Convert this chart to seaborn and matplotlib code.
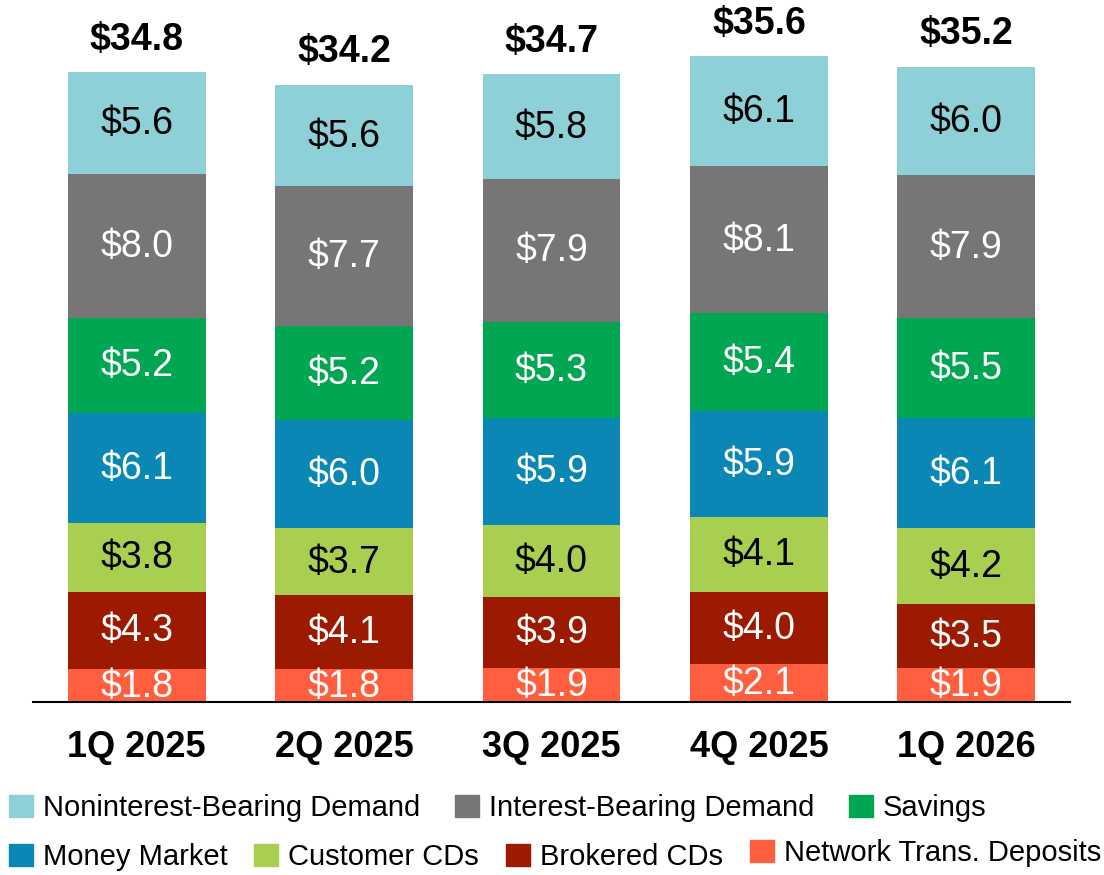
import numpy as np
import matplotlib
matplotlib.use('Agg')
import matplotlib.pyplot as plt
import seaborn as sns
from matplotlib.patches import Patch

# Datos (miles de millones de dólares)
trimestres = ['1Q 2025', '2Q 2025', '3Q 2025', '4Q 2025', '1Q 2026']
network = [1.8, 1.8, 1.9, 2.1, 1.9]
brokered = [4.3, 4.1, 3.9, 4.0, 3.5]
customer_cds = [3.8, 3.7, 4.0, 4.1, 4.2]
money_market = [6.1, 6.0, 5.9, 5.9, 6.1]
savings = [5.2, 5.2, 5.3, 5.4, 5.5]
interest_dem = [8.0, 7.7, 7.9, 8.1, 7.9]
nonint_dem = [5.6, 5.6, 5.8, 6.1, 6.0]
totales = [34.8, 34.2, 34.7, 35.6, 35.2]

series = [
    ('Network Trans. Deposits', network, '#FF5F3F', 'white'),
    ('Brokered CDs', brokered, '#9C1A00', 'white'),
    ('Customer CDs', customer_cds, '#A9CF50', 'black'),
    ('Money Market', money_market, '#0A87B4', 'white'),
    ('Savings', savings, '#00A651', 'white'),
    ('Interest-Bearing Demand', interest_dem, '#767676', 'white'),
    ('Noninterest-Bearing Demand', nonint_dem, '#8DD0D7', 'black'),
]

sns.set_style('white')
plt.rcParams['font.family'] = ['Liberation Sans', 'DejaVu Sans']
plt.rcParams['text.color'] = 'black'
plt.rcParams['xtick.color'] = 'black'

fig = plt.figure(figsize=(11.04, 8.75), dpi=100)
ax = fig.add_axes([33 / 1104, 1 - 702 / 875, 1037 / 1104, 702 / 875])

vals = np.array([s[1] for s in series])
acum = np.cumsum(vals, axis=0)

# barras apiladas: se dibuja desde la acumulada mayor hacia abajo
for i in range(len(series) - 1, -1, -1):
    sns.barplot(x=trimestres, y=acum[i], color=series[i][2], width=0.665,
                saturation=1, linewidth=0, ax=ax)

for i, (nombre, v, col, tcol) in enumerate(series):
    for j in range(len(trimestres)):
        ax.text(j, acum[i][j] - v[j] / 2 - 0.05, f'${v[j]:.1f}', ha='center', va='center',
                fontsize=27, color=tcol)

for j, t in enumerate(totales):
    ax.text(j, acum[-1][j] + 1.8, f'${t:.1f}', ha='center', va='center',
            fontsize=27, fontweight='bold', color='black')

ax.set_xlim(-0.5, 4.5)
ax.set_ylim(0, 38.8)
ax.set_yticks([])
ax.set_ylabel('')
for s in ['top', 'right', 'left']:
    ax.spines[s].set_visible(False)
ax.spines['bottom'].set_color('black')
ax.spines['bottom'].set_linewidth(1.5)
ax.tick_params(axis='x', length=0, pad=20, labelcolor='black')
ax.set_xticks(range(len(trimestres)))
ax.set_xticklabels(trimestres, fontsize=26, fontweight='bold', color='black')

# Leyenda en dos filas
colores = {s[0]: s[2] for s in series}
fila1 = ['Noninterest-Bearing Demand', 'Interest-Bearing Demand', 'Savings']
fila2 = ['Money Market', 'Customer CDs', 'Brokered CDs']
fila2b = ['Network Trans. Deposits']
opts = dict(frameon=False, fontsize=21, handlelength=0.82, handleheight=0.82,
            handletextpad=0.34, borderpad=0, borderaxespad=0,
            loc='center left', labelcolor='black')
fig.legend(handles=[Patch(color=colores[n], label=n) for n in fila1],
           ncol=3, columnspacing=1.2, bbox_to_anchor=(9 / 1104, 1 - 808 / 875), **opts)
fig.legend(handles=[Patch(color=colores[n], label=n) for n in fila2],
           ncol=3, columnspacing=0.92, bbox_to_anchor=(9 / 1104, 1 - 857 / 875), **opts)
fig.legend(handles=[Patch(color=colores[n], label=n) for n in fila2b],
           ncol=1, bbox_to_anchor=(750 / 1104, 1 - 853 / 875), **opts)

fig.savefig('out.png', dpi=100)
